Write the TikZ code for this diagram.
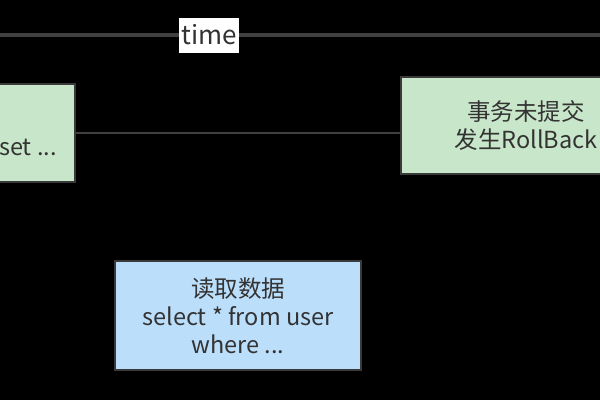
\documentclass[tikz,border=0pt]{standalone}
\usepackage{fontspec}
\setmainfont{Noto Sans CJK SC}
\usetikzlibrary{positioning}
\definecolor{txtgray}{HTML}{333333}
\definecolor{edgegray}{HTML}{3A3A3A}
\definecolor{linegray}{HTML}{404040}
\definecolor{txgreen}{HTML}{C8E6C9}
\definecolor{rdblue}{HTML}{BBDEFB}

\begin{document}
\begin{tikzpicture}[
  x=1pt, y=-1pt,
  box/.style={draw=edgegray, line width=2pt, align=center, inner sep=0pt, text=txtgray, font=\fontsize{23.5}{28}\selectfont},
  lbl/.style={fill=white, text=txtgray, inner sep=1.5pt, minimum width=60, minimum height=35, font=\fontsize{26}{30}\selectfont},
  timeline/.style={draw=linegray, line width=4pt},
  conn/.style={draw=linegray, line width=2pt}
]
\useasboundingbox (0,0) rectangle (600,400);
\fill[black] (0,0) rectangle (600,400);

\coordinate (tstart) at (-5,35);
\coordinate (tend) at (605,35);
\draw[timeline] (tstart) -- (tend);
\node[lbl] (time) at (209,35) {time};

\node[box, fill=txgreen, minimum width=160, minimum height=98, anchor=north east] (update) at (76,83) {};
\node[anchor=base west, inner sep=0pt, text=txtgray, font=\fontsize{23.5}{28}\selectfont] (updtxt) at (-1,155) {set ...};
\node[box, fill=txgreen, minimum width=250, minimum height=97, anchor=north west] (rollback) at (400,76) {事务未提交\\发生RollBack};
\node[box, fill=rdblue, minimum width=246, minimum height=109, anchor=north west] (read) at (114,260) {读取数据\\select * from user\\where ...};

\draw[conn] (update.east) -- (rollback.west |- update.east);
\end{tikzpicture}
\end{document}
